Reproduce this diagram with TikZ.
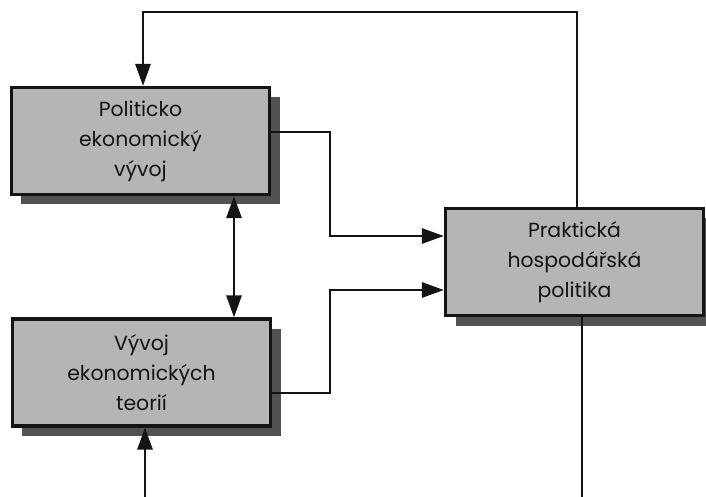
\documentclass[tikz,border=0pt]{standalone}
\usepackage{fontspec}
\setmainfont{Poppins}
\usetikzlibrary{arrows.meta,shadows}
\definecolor{boxfill}{RGB}{181,181,181}
\definecolor{shade}{RGB}{82,82,82}
\definecolor{ink}{RGB}{20,20,20}
\begin{document}
\begin{tikzpicture}[x=1bp,y=-1bp,
 box/.style={draw=ink, line width=3.2bp, fill=boxfill, minimum width=258bp, minimum height=107bp,
   inner sep=0pt, align=center, font=\fontsize{20.5}{30}\selectfont, text=ink,
   general shadow={fill=shade, draw=none, shadow xshift=10bp, shadow yshift=-10bp}},
 conn/.style={draw=ink, line width=2.8bp},
 tip/.style={-{Triangle[length=22bp,width=15bp]}},
 tips/.style={{Triangle[length=22bp,width=15bp]}-{Triangle[length=22bp,width=15bp]}}
]
\useasboundingbox (0,0) rectangle (706,497);
\node[box] (b1) at (140.5,141) {Politicko\\ekonomický\\vývoj};
\node[box] (b2) at (141.5,372.5) {Vývoj\\ekonomických\\teorií};
\node[box] (b3) at (574.5,262) {Praktická\\hospodářská\\politika};
\coordinate (t1) at (577,12);
\coordinate (t2) at (143,12);
\coordinate (m1) at (330,132);
\coordinate (k1) at (330,236);
\coordinate (m2) at (330,393);
\coordinate (k2) at (330,290);
\coordinate (d) at (234,0);
\coordinate (in) at (145,497);
\coordinate (out) at (582,497);
\draw[conn,tip] (b3.north -| t1) -- (t1) -- (t2) -- (b1.north -| t2);
\draw[conn,tip] (b1.east |- m1) -- (m1) -- (k1) -- (b3.west |- k1);
\draw[conn,tip] (b2.east |- m2) -- (m2) -- (k2) -- (b3.west |- k2);
\draw[conn,tips] (b1.south -| d) -- (b2.north -| d);
\draw[conn,tip] (in) -- (b2.south -| in);
\draw[conn] (b3.south -| out) -- (out);
\end{tikzpicture}
\end{document}
